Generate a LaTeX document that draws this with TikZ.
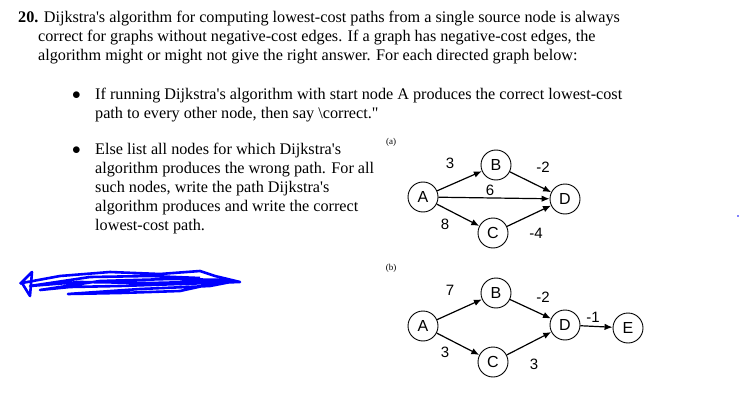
\documentclass[tikz,border=0pt]{standalone}
\usepackage{fontspec}
\setmainfont{Liberation Serif}[Ligatures=TeXOff]
\newfontfamily\arialf{Liberation Sans}
\usetikzlibrary{arrows.meta}
\newcommand\aq{\char"0027\relax}
\newcommand\dq{\char"0022\relax}
\begin{document}
\begin{tikzpicture}[x=1pt,y=-1pt,
  tl/.style={anchor=base west,inner sep=0,font=\fontsize{16.2}{18}\selectfont},
  vx/.style={circle,draw,line width=0.9pt,minimum size=30pt,inner sep=0,font=\arialf\fontsize{16}{17}\selectfont},
  ed/.style={line width=1.2pt,-{Latex[length=8pt,width=6.5pt]}},
  wl/.style={font=\arialf\fontsize{15}{16}\selectfont,inner sep=0},
  sub/.style={font=\fontsize{9}{10}\selectfont,inner sep=0}]
\useasboundingbox[fill=white] (0,0) rectangle (739,417);
\node[tl] (l1) at (18,23) {\textbf{20.} Dijkstra\aq s algorithm for computing lowest-cost paths from a single source node is always};
\node[tl] (l2) at (38,42) {correct for graphs without negative-cost edges. If a graph has negative-cost edges, the};
\node[tl] (l3) at (38,61) {algorithm might or might not give the right answer. For each directed graph below:};
\node[tl] (b1) at (72,100) {$\bullet$};
\node[tl] (l4) at (95,100) {If running Dijkstra\aq s algorithm with start node A produces the correct lowest-cost};
\node[tl] (l5) at (95,119) {path to every other node, then say \textbackslash correct.\dq};
\node[tl] (b2) at (72,155) {$\bullet$};
\node[tl] (l6) at (95,155) {Else list all nodes for which Dijkstra\aq s};
\node[tl] (l7) at (95,174) {algorithm produces the wrong path. For all};
\node[tl] (l8) at (95,192) {such nodes, write the path Dijkstra\aq s};
\node[tl] (l9) at (95,211) {algorithm produces and write the correct};
\node[tl] (l10) at (95,230) {lowest-cost path.};
% scribble
\draw[blue,line width=2.6pt,line join=round]
 (20,284) -- (32,272) -- (30,296) -- (22,283) -- (60,276) -- (110,272) -- (160,274) -- (200,271) -- (215,276) -- (240,282)
 -- (180,284) -- (120,286) -- (70,287) -- (40,290) -- (100,281) -- (170,279) -- (230,280) -- (180,291) -- (120,293) -- (68,294)
 -- (140,289) -- (210,286) -- (236,281) -- (150,283) -- (80,282) -- (30,286) -- (90,277) -- (150,276) -- (200,278);
\fill[blue] (738,216) circle (0.8);
% graph (a)
\node[sub] (la) at (391,142) {(a)};
\node[vx] (A) at (423,197) {A};
\node[vx] (B) at (496,165) {B};
\node[vx] (D) at (565,199) {D};
\node[vx] (C) at (493,233) {C};
\draw[ed] (A) -- (B);
\draw[ed] (B) -- (D);
\draw[ed] (A) -- (D);
\draw[ed] (A) -- (C);
\draw[ed] (C) -- (D);
\node[wl] (w1) at (450,163) {3};
\node[wl] (w2) at (543,167) {-2};
\node[wl] (w3) at (490,190) {6};
\node[wl] (w4) at (445,224) {8};
\node[wl] (w5) at (536,233) {-4};
% graph (b)
\node[sub] (lb) at (391,268) {(b)};
\node[vx] (A2) at (423,326) {A};
\node[vx] (B2) at (496,293) {B};
\node[vx] (D2) at (565,325) {D};
\node[vx] (C2) at (493,362) {C};
\node[vx] (E2) at (628,328) {E};
\draw[ed] (A2) -- (B2);
\draw[ed] (B2) -- (D2);
\draw[ed] (A2) -- (C2);
\draw[ed] (C2) -- (D2);
\draw[ed] (D2) -- (E2);
\node[wl] (x1) at (450,290) {7};
\node[wl] (x2) at (543,297) {-2};
\node[wl] (x3) at (593,317) {-1};
\node[wl] (x4) at (445,352) {3};
\node[wl] (x5) at (534,364) {3};
\end{tikzpicture}
\end{document}
